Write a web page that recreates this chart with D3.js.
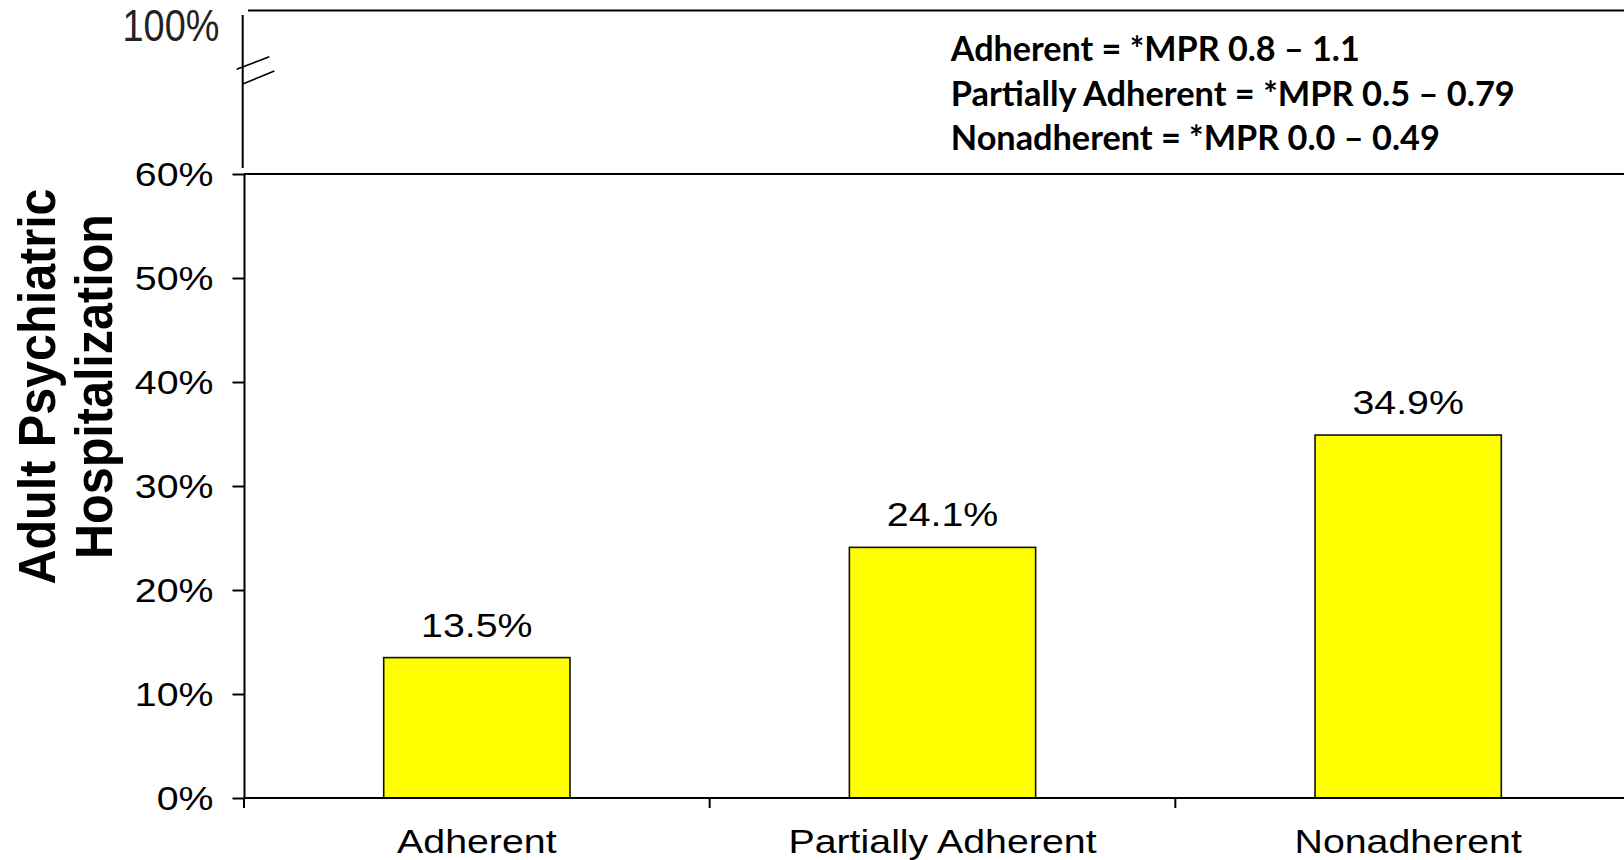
<!DOCTYPE html>
<html>
<head>
<meta charset="utf-8">
<script src="https://cdn.jsdelivr.net/npm/d3@7"></script>
<style>
  html, body { margin: 0; padding: 0; background: #fff; overflow: hidden; }
  svg { display: block; }
</style>
</head>
<body>
<svg id="chart" width="1624" height="860"></svg>
<script>
// Adult psychiatric hospitalization rate by medication adherence group
const categories = ["Adherent", "Partially Adherent", "Nonadherent"];
const hospitalizationPct = [13.5, 24.1, 34.9];
const yTicks = [0, 10, 20, 30, 40, 50, 60];
const brokenTopLabel = "100%";
const yTitleLines = ["Adult Psychiatric", "Hospitalization"];
const mprDefinitions = [
  "Adherent = *MPR 0.8 \u2013 1.1",
  "Partially Adherent = *MPR 0.5 \u2013 0.79",
  "Nonadherent = *MPR 0.0 \u2013 0.49"
];

const svg = d3.select("#chart");
const W = 1624;

const plot = { left: 244, right: 1641, bottom: 798, top: 174 };
const sansFont = "'Liberation Sans', Arial, Helvetica, sans-serif";
const wide = 1.21; // horizontal stretch of the regular labels
const labelSize = 32.5;

const y = d3.scaleLinear().domain([0, 60]).range([plot.bottom, plot.top]);
const x = d3.scaleBand()
  .domain(categories)
  .range([plot.left, plot.right])
  .paddingInner(0.6)
  .paddingOuter(0.3);

const data = categories.map((c, i) => ({ cat: c, value: hospitalizationPct[i] }));

// bars
svg.append("g").selectAll("rect")
  .data(data)
  .join("rect")
  .attr("x", d => x(d.cat))
  .attr("width", x.bandwidth())
  .attr("y", d => y(d.value))
  .attr("height", d => y(0) - y(d.value))
  .attr("fill", "#ffff00")
  .attr("stroke", "#111")
  .attr("stroke-width", 1.6);

// value labels above bars
svg.append("g").selectAll("text")
  .data(data)
  .join("text")
  .attr("transform", d => `translate(${x(d.cat) + x.bandwidth() / 2},${y(d.value) - 21}) scale(${wide},1)`)
  .attr("text-anchor", "middle")
  .attr("font-family", sansFont)
  .attr("font-size", labelSize)
  .attr("fill", "#000")
  .text(d => d.value.toFixed(1) + "%");

// y axis (0% - 60%)
const yAxis = svg.append("g")
  .attr("transform", `translate(${plot.left},0)`)
  .call(d3.axisLeft(y)
    .tickValues(yTicks)
    .tickSize(11.5)
    .tickSizeOuter(0)
    .tickPadding(19)
    .tickFormat(d => d + "%"));
yAxis.select(".domain").attr("stroke", "#000").attr("stroke-width", 2);
yAxis.selectAll(".tick line").attr("stroke", "#000").attr("stroke-width", 2);
yAxis.selectAll(".tick text")
  .attr("font-family", sansFont)
  .attr("font-size", labelSize)
  .attr("fill", "#000")
  .attr("transform", function () {
    const tx = +this.getAttribute("x");
    return `translate(${tx},0) scale(${wide},1)`;
  })
  .attr("x", 0)
  .attr("dy", "0.36em");

// x axis line, top frame line at 60%, and category boundary ticks
const axisG = svg.append("g").attr("stroke", "#000").attr("stroke-width", 2);
axisG.append("line")
  .attr("x1", plot.left).attr("x2", plot.right)
  .attr("y1", y(0)).attr("y2", y(0));
axisG.append("line")
  .attr("x1", plot.left).attr("x2", plot.right)
  .attr("y1", y(60)).attr("y2", y(60));
const boundaries = d3.range(categories.length + 1).map(i => x.range()[0] + i * x.step());
axisG.selectAll("line.cat-tick")
  .data(boundaries)
  .join("line")
  .attr("class", "cat-tick")
  .attr("x1", d => d).attr("x2", d => d)
  .attr("y1", y(0)).attr("y2", y(0) + 10);

// category labels
svg.append("g").selectAll("text")
  .data(categories)
  .join("text")
  .attr("transform", d => `translate(${x(d) + x.bandwidth() / 2},853) scale(${wide},1)`)
  .attr("text-anchor", "middle")
  .attr("font-family", sansFont)
  .attr("font-size", labelSize)
  .attr("fill", "#000")
  .text(d => d);

// broken upper segment of the axis (60% -> 100%)
const brk = svg.append("g").attr("stroke", "#000").attr("stroke-width", 2).attr("fill", "none");
brk.append("line").attr("x1", 242.7).attr("x2", 242.7).attr("y1", 15).attr("y2", 168);
brk.append("line").attr("x1", 248).attr("x2", W).attr("y1", 10.5).attr("y2", 10.5);
brk.append("line").attr("x1", 236.7).attr("y1", 69.3).attr("x2", 269.3).attr("y2", 56.7).attr("stroke-width", 1.6);
brk.append("line").attr("x1", 242.7).attr("y1", 84).attr("x2", 274.3).attr("y2", 71).attr("stroke-width", 1.6);

svg.append("text")
  .attr("transform", "translate(219.3,41) scale(0.86,1)")
  .attr("text-anchor", "end")
  .attr("font-family", sansFont)
  .attr("font-size", 44)
  .attr("fill", "#222")
  .text(brokenTopLabel);

// y axis title, two rotated lines
const titleX = [55, 111.7];
svg.append("g").selectAll("text")
  .data(yTitleLines)
  .join("text")
  .attr("transform", (d, i) => `translate(${titleX[i]},386.5) rotate(-90) scale(1,1.07)`)
  .attr("text-anchor", "middle")
  .attr("font-family", sansFont)
  .attr("font-weight", "bold")
  .attr("font-size", 48.5)
  .attr("fill", "#000")
  .text(d => d);

// MPR definitions box text
const defWidths = [409, 564, 489];
svg.append("g").selectAll("text")
  .data(mprDefinitions)
  .join("text")
  .attr("x", 950.8)
  .attr("y", (d, i) => 61 + i * 44.5)
  .attr("font-family", "Lato, 'Open Sans', sans-serif")
  .attr("font-weight", "bold")
  .attr("font-size", 35)
  .attr("fill", "#000")
  .attr("textLength", (d, i) => defWidths[i])
  .attr("lengthAdjust", "spacingAndGlyphs")
  .text(d => d);
</script>
</body>
</html>
